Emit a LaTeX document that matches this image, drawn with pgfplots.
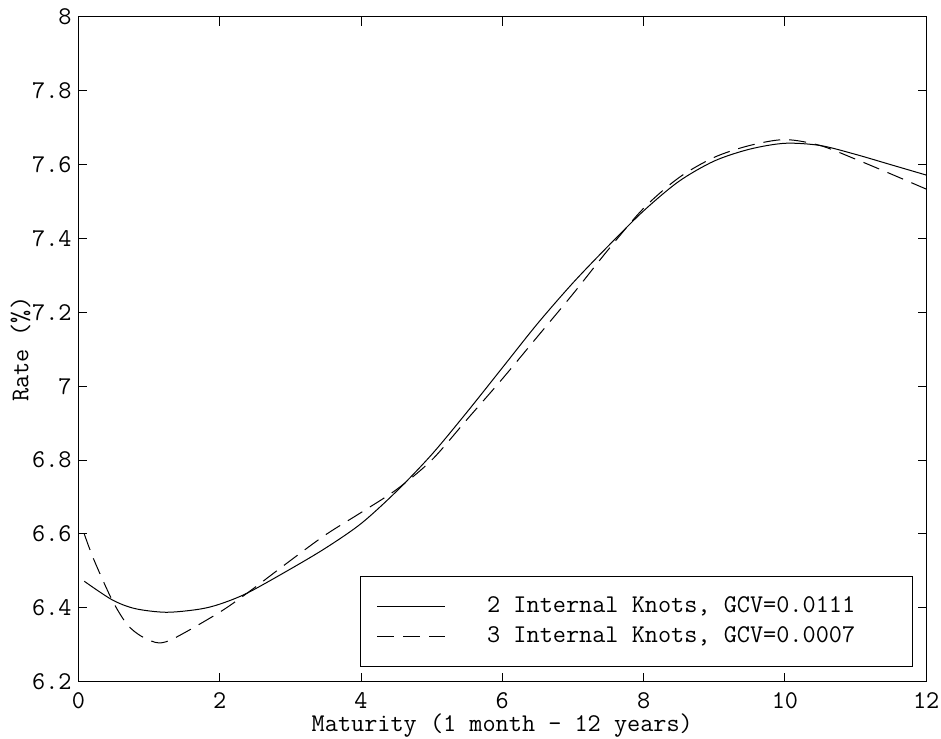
\documentclass[border=0pt]{standalone}
\usepackage{pgfplots}
\pgfplotsset{compat=1.18}
\newcommand{\cfont}{\ttfamily\fontsize{12.76}{15}\selectfont}
\begin{document}
\begin{tikzpicture}
\begin{axis}[
  scale only axis,
  width=423.9pt, height=332.35pt,
  xmin=0, xmax=12, ymin=6.2, ymax=8,
  xtick={0,2,4,6,8,10,12},
  ytick={6.2,6.4,6.6,6.8,7,7.2,7.4,7.6,7.8,8},
  tick align=inside, tick pos=both,
  major tick length=4.35pt,
  every tick/.style={black, line width=0.5pt},
  axis line style={line width=0.5pt},
  /pgf/number format/assume math mode=true,
  tick label style={font=\cfont},
  xticklabel style={inner sep=0pt, anchor=north, yshift=-5pt},
  yticklabel style={inner sep=0pt, anchor=east, xshift=-3.2pt},
  xlabel={Maturity (1 month - 12 years)},
  ylabel={Rate (\%)},
  label style={font=\cfont, inner sep=0pt},
  xlabel style={at={([yshift=-25pt]axis description cs:0.5,0)}, anchor=base},
  ylabel style={at={([xshift=-25pt]axis description cs:0,0.5)}, anchor=base},
  legend style={font=\cfont, at={(axis description cs:0.98408,0.02257)}, anchor=south east,
    draw=black, line width=0.5pt, fill=white, inner xsep=0pt, inner ysep=7.35pt,
    column sep=0pt, row sep=0pt, nodes={inner sep=0pt, minimum height=15pt}},
  legend cell align=left,
  legend image code/.code={\path[draw=none] (0pt,0pt) (63.5pt,0pt); \draw[#1] (8.5pt,0pt) -- (42.5pt,0pt);},
]
\addplot[black, line width=0.5pt, smooth] coordinates {
(0.083,6.472) (0.475,6.422) (0.8,6.398) (1.24,6.388) (1.7,6.396) (2.0,6.41)
(2.39,6.44) (3.0,6.505) (3.5,6.562) (4.0,6.628) (4.5,6.715) (5.0,6.815)
(5.5,6.93) (6.0,7.05) (6.5,7.17) (7.0,7.28) (7.5,7.38) (8.0,7.475)
(8.5,7.555) (9.0,7.61) (9.5,7.642) (10.0,7.658) (10.5,7.652) (11.0,7.628)
(11.5,7.60) (12,7.572)};
\addlegendentry{\makebox[212.5pt][l]{2 Internal Knots, GCV=0.0111}}
\addplot[black, line width=0.5pt, smooth, dash pattern=on 8.5pt off 4.5pt] coordinates {
(0.083,6.60) (0.22,6.53) (0.475,6.422) (0.69,6.355) (0.9,6.322) (1.14,6.305)
(1.38,6.32) (1.99,6.387) (2.39,6.44) (3.0,6.528) (3.5,6.598) (4.0,6.658)
(4.5,6.72) (5.0,6.80) (5.5,6.91) (6.0,7.02) (6.5,7.135) (7.0,7.25)
(7.5,7.37) (8.0,7.482) (8.5,7.565) (9.0,7.62) (9.5,7.652) (10.0,7.668)
(10.5,7.652) (11.0,7.615) (11.5,7.575) (12,7.534)};
\addlegendentry{\makebox[212.5pt][l]{3 Internal Knots, GCV=0.0007}}
\end{axis}
\pgfresetboundingbox
\path ([xshift=-39.2pt,yshift=-28.15pt]current axis.south west) rectangle ([xshift=7.4pt,yshift=8.5pt]current axis.north east);
\end{tikzpicture}
\end{document}
